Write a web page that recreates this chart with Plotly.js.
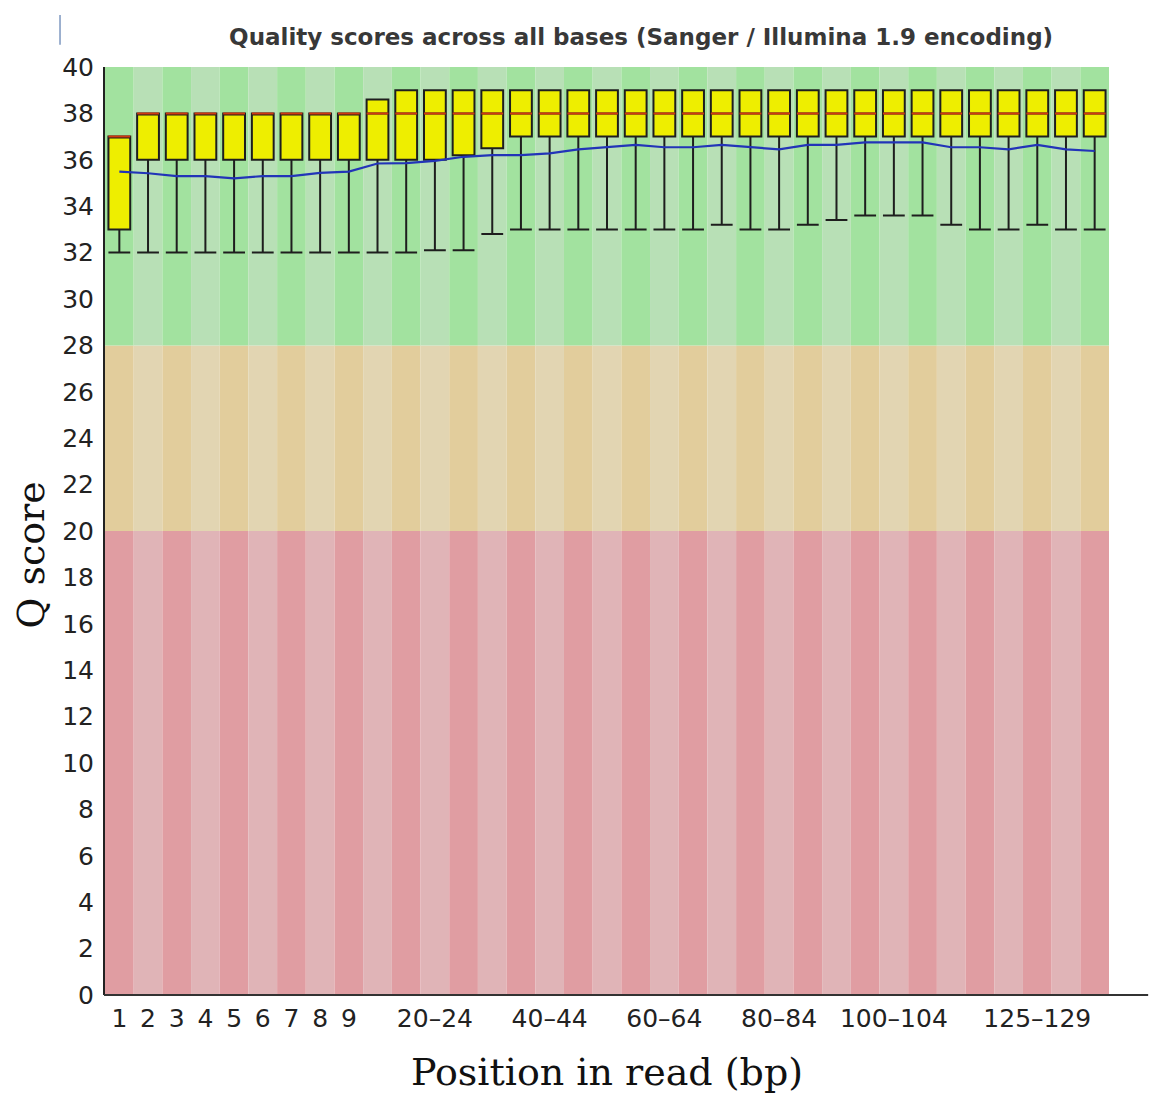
<!DOCTYPE html>
<html>
<head>
<meta charset="utf-8">
<script src="https://cdn.plot.ly/plotly-3.0.1.min.js"></script>
<style>html,body{margin:0;padding:0;background:#fff;}</style>
</head>
<body>
<div id="chart" style="width:1151px;height:1097px;"></div>
<script>
// Position groups along the read
const categories = ["1","2","3","4","5","6","7","8","9",
  "10–14","15–19","20–24","25–29","30–34","35–39","40–44","45–49",
  "50–54","55–59","60–64","65–69","70–74","75–79","80–84","85–89",
  "90–94","95–99","100–104","105–109","110–114","115–119","120–124",
  "125–129","130–134","135–139"];

// Labels that are shown on the x axis
const shownTicks = ["1","2","3","4","5","6","7","8","9","20–24","40–44","60–64","80–84","100–104","125–129"];

// 10th percentile (lower whisker)
const p10 = [32,32,32,32,32,32,32,32,32,
  32,32,32.1,32.1,32.8,33,33,33,33,33,33,33,33.2,33,33,33.2,
  33.4,33.6,33.6,33.6,33.2,33,33,33.2,33,33];
// lower quartile
const q1 = [33,36,36,36,36,36,36,36,36,
  36,36,36,36.2,36.5,37,37,37,37,37,37,37,37,37,37,37,
  37,37,37,37,37,37,37,37,37,37];
// median
const med = [37,38,38,38,38,38,38,38,38,
  38,38,38,38,38,38,38,38,38,38,38,38,38,38,38,38,
  38,38,38,38,38,38,38,38,38,38];
// upper quartile
const q3 = [37,38,38,38,38,38,38,38,38,
  38.6,39,39,39,39,39,39,39,39,39,39,39,39,39,39,39,
  39,39,39,39,39,39,39,39,39,39];
// 90th percentile (upper whisker)
const p90 = [37,38,38,38,38,38,38,38,38,
  38.6,39,39,39,39,39,39,39,39,39,39,39,39,39,39,39,
  39,39,39,39,39,39,39,39,39,39];
// mean quality
const meanQ = [35.49,35.42,35.3,35.3,35.2,35.3,35.3,35.44,35.49,
  35.84,35.86,35.95,36.13,36.2,36.2,36.28,36.45,36.54,36.64,36.54,36.54,
  36.64,36.54,36.45,36.64,36.64,36.75,36.75,36.75,36.54,36.54,36.45,
  36.64,36.45,36.38];

// Quality zones
const zones = [
  {lo:0, hi:20, dark:"#e09da2", light:"#e0b4b7"},
  {lo:20, hi:28, dark:"#e2cd9c", light:"#e2d5b2"},
  {lo:28, hi:40, dark:"#a2e29f", light:"#b8e0b6"}
];

const idx = categories.map((c,i)=>i);
const tickvals = shownTicks.map(t=>categories.indexOf(t));

const shapes = [];
idx.forEach(i=>{
  zones.forEach(z=>{
    shapes.push({type:"rect", layer:"below", xref:"x", yref:"y",
      x0:i-0.5, x1:i+0.5, y0:z.lo, y1:z.hi,
      fillcolor:(i%2===0)?z.dark:z.light, line:{width:0}});
  });
});
// extended x axis baseline
shapes.push({type:"line", xref:"paper", yref:"paper", x0:-0.001, x1:1.039, y0:0, y1:0,
  line:{color:"#333333", width:2}});
// small vertical mark at top-left
shapes.push({type:"line", xref:"paper", yref:"paper", x0:-0.0448, x1:-0.0448, y0:1.024, y1:1.056,
  line:{color:"#7d97c0", width:1.5}});

const boxTrace = {
  type:"box", x:idx, q1:q1, median:med, q3:q3, lowerfence:p10, upperfence:p90,
  width:0.76, whiskerwidth:1, boxpoints:false,
  fillcolor:"#eeee00", line:{color:"#1e1e1e", width:2},
  hoverinfo:"skip", showlegend:false
};
const medianTrace = {
  type:"box", x:idx, q1:med, median:med, q3:med, lowerfence:med, upperfence:med,
  width:0.76, whiskerwidth:1, boxpoints:false,
  fillcolor:"rgba(0,0,0,0)", line:{color:"#d03a10", width:2},
  hoverinfo:"skip", showlegend:false
};
const meanTrace = {
  type:"scatter", mode:"lines", x:idx, y:meanQ,
  line:{color:"#2234b8", width:2.2}, hoverinfo:"skip", showlegend:false
};

const layout = {
  width:1151, height:1097,
  margin:{l:105, r:42, t:67, b:102},
  paper_bgcolor:"#ffffff", plot_bgcolor:"#ffffff",
  boxmode:"overlay",
  title:{text:"<b>Quality scores across all bases (Sanger / Illumina 1.9 encoding)</b>",
    font:{family:"DejaVu Sans", size:23, color:"#383838"},
    xref:"container", x:0.557, xanchor:"center", yref:"container", y:0.966, yanchor:"middle"},
  xaxis:{range:[-0.5,34.5], tickmode:"array", tickvals:tickvals, ticktext:shownTicks,
    showgrid:false, zeroline:false, showline:false, ticks:"", ticklabelstandoff:6,
    tickfont:{family:"DejaVu Sans", size:25, color:"#222222"},
    title:{text:"Position in read (bp)", font:{family:"DejaVu Serif", size:38, color:"#111111"}, standoff:26}},
  yaxis:{range:[0,40], dtick:2, tick0:0, showgrid:false, zeroline:false,
    showline:true, linecolor:"#222222", linewidth:2, ticks:"", ticklabelstandoff:4,
    tickfont:{family:"DejaVu Sans", size:25, color:"#222222"}},
  annotations:[{text:"Q score", xref:"paper", yref:"paper", x:-0.074, y:0.474,
    xanchor:"center", yanchor:"middle", textangle:-90, showarrow:false,
    font:{family:"DejaVu Serif", size:38, color:"#111111"}}],
  shapes:shapes
};

Plotly.newPlot("chart", [boxTrace, medianTrace, meanTrace], layout, {displayModeBar:false, staticPlot:true});
</script>
</body>
</html>
